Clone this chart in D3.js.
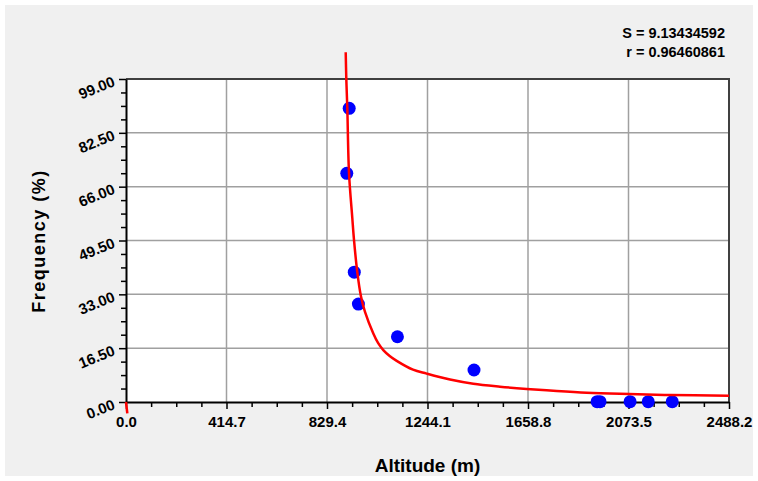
<!DOCTYPE html>
<html>
<head>
<meta charset="utf-8">
<script src="https://cdn.jsdelivr.net/npm/d3@7"></script>
<style>
  body { margin: 0; background: #ffffff; }
  text { font-family: "Liberation Sans", Arial, sans-serif; font-weight: bold; fill: #000; }
</style>
</head>
<body>
<div id="chart"></div>
<script>
// Data
const pointX = [921, 911, 942, 959, 1120, 1436, 1944, 1956, 2080, 2155, 2254];
const pointY = [90.0, 70.1, 39.8, 30.0, 20.0, 9.8, 0.1, 0.1, 0.1, 0.1, 0.1];

// fitted curve
const curveX = [906.6, 909.0, 913.2, 920.2, 933.8, 940.8, 954.4, 969.7, 986.2, 1020.5, 1040.0, 1061.7, 1088.0, 1117.0,
                1184.3, 1240.8, 1337.0, 1433.1, 1543.3, 1653.4, 1777.2, 1901.0, 2038.4, 2244.8, 2488.2];
const curveY = [107.2, 99.2, 90.1, 70.2, 56.4, 49.7, 39.8, 32.3, 27.6, 21.0, 18.1, 15.9, 14.1, 12.6,
                9.9, 8.7, 6.9, 5.6, 4.7, 4.0, 3.37, 2.85, 2.5, 2.15, 1.93];
// short left branch near the origin
const stubX = [0, 5.4];
const stubY = [0, -3.5];

const xTicks = [0, 414.7, 829.4, 1244.1, 1658.8, 2073.5, 2488.2];
const yTicks = [0, 16.5, 33, 49.5, 66, 82.5, 99];

const statLines = ["S = 9.13434592", "r = 0.96460861"];
const xTitle = "Altitude (m)";
const yTitle = "Frequency (%)";

const config = {
  width  : 758,
  height : 481,
  left   : 126,
  right  : 729,
  top    : 79,
  bottom : 402
};

const svg = d3.select("#chart")
  .append("svg")
    .attr("width", config.width)
    .attr("height", config.height);

// panel background
svg.append("rect")
  .attr("x", 5).attr("y", 5)
  .attr("width", config.width - 10).attr("height", config.height - 10)
  .attr("fill", "#f0f0f0");

const x = d3.scaleLinear()
  .domain([0, 2488.2])
  .range([config.left, config.right]);

const y = d3.scaleLinear()
  .domain([0, 99])
  .range([config.bottom, config.top]);

// plot area
svg.append("rect")
  .attr("x", config.left).attr("y", config.top)
  .attr("width", config.right - config.left)
  .attr("height", config.bottom - config.top)
  .attr("fill", "#ffffff");

// grid
svg.append("g").selectAll("line")
  .data(xTicks.slice(1, -1))
  .enter().append("line")
    .attr("x1", d => x(d)).attr("x2", d => x(d))
    .attr("y1", config.top).attr("y2", config.bottom)
    .attr("stroke", "#a0a0a0").attr("stroke-width", 1.5);

svg.append("g").selectAll("line")
  .data(yTicks.slice(1, -1))
  .enter().append("line")
    .attr("x1", config.left).attr("x2", config.right)
    .attr("y1", d => y(d)).attr("y2", d => y(d))
    .attr("stroke", "#a0a0a0").attr("stroke-width", 1.5);

// top and right border
svg.append("path")
  .attr("d", `M${config.left},${config.top}H${config.right}V${config.bottom}`)
  .attr("fill", "none")
  .attr("stroke", "#404040")
  .attr("stroke-width", 2);

// minor ticks
function minors(ticks) {
  const out = [];
  for (let i = 0; i < ticks.length - 1; i++) {
    const step = (ticks[i + 1] - ticks[i]) / 4;
    for (let k = 1; k < 4; k++) out.push(ticks[i] + step * k);
  }
  return out;
}

const xAxisMinor = svg.append("g")
  .attr("transform", `translate(0,${config.bottom})`)
  .call(d3.axisBottom(x).tickValues(minors(xTicks)).tickSize(5).tickFormat(""));
const yAxisMinor = svg.append("g")
  .attr("transform", `translate(${config.left},0)`)
  .call(d3.axisLeft(y).tickValues(minors(yTicks)).tickSize(5).tickFormat(""));

const xAxis = svg.append("g")
  .attr("transform", `translate(0,${config.bottom})`)
  .call(d3.axisBottom(x).tickValues(xTicks).tickSize(7).tickSizeOuter(0)
    .tickFormat(d3.format(".1f")));
const yAxis = svg.append("g")
  .attr("transform", `translate(${config.left},0)`)
  .call(d3.axisLeft(y).tickValues(yTicks).tickSize(7).tickSizeOuter(0)
    .tickFormat(d3.format(".2f")));

[xAxisMinor, yAxisMinor].forEach(g => g.select(".domain").remove());
svg.selectAll(".tick line").attr("stroke", "#000").attr("stroke-width", 1.5);
xAxis.select(".domain").attr("stroke", "#000").attr("stroke-width", 2);
yAxis.select(".domain").attr("stroke", "#000").attr("stroke-width", 2);

xAxis.selectAll("text")
  .attr("y", 14)
  .style("font-size", "15px")
  .style("font-family", "'Liberation Sans', Arial, sans-serif")
  .style("font-weight", "bold");

yAxis.selectAll("text")
  .attr("x", null).attr("dy", null)
  .attr("text-anchor", "end")
  .attr("transform", "translate(-10,6) rotate(-22)")
  .style("font-size", "15px")
  .style("font-family", "'Liberation Sans', Arial, sans-serif")
  .style("font-weight", "bold");

// points
svg.append("g").selectAll("circle")
  .data(pointX.map((d, i) => [d, pointY[i]]))
  .enter().append("circle")
    .attr("cx", d => x(d[0]))
    .attr("cy", d => y(d[1]))
    .attr("r", 6.5)
    .attr("fill", "#0000ff");

// fitted curve
const line = d3.line()
  .x(d => x(d[0]))
  .y(d => y(d[1]))
  .curve(d3.curveCatmullRom.alpha(0.5));

svg.append("path")
  .datum(curveX.map((d, i) => [d, curveY[i]]))
  .attr("d", line)
  .attr("fill", "none")
  .attr("stroke", "#ff0000")
  .attr("stroke-width", 2.5);

svg.append("path")
  .datum(stubX.map((d, i) => [d, stubY[i]]))
  .attr("d", d3.line().x(d => x(d[0])).y(d => y(d[1])))
  .attr("fill", "none")
  .attr("stroke", "#ff0000")
  .attr("stroke-width", 2.5);

// statistics
svg.append("g").selectAll("text")
  .data(statLines)
  .enter().append("text")
    .attr("x", 725)
    .attr("y", (d, i) => 38 + i * 19)
    .attr("text-anchor", "end")
    .style("font-size", "14.5px")
    .text(d => d);

// axis titles
svg.append("text")
  .attr("x", (config.left + config.right) / 2)
  .attr("y", 472)
  .attr("text-anchor", "middle")
  .style("font-size", "19px")
  .text(xTitle);

svg.append("text")
  .attr("transform", "translate(45,241) rotate(-90)")
  .attr("text-anchor", "middle")
  .style("font-size", "18px")
  .style("letter-spacing", "1.5px")
  .text(yTitle);
</script>
</body>
</html>
